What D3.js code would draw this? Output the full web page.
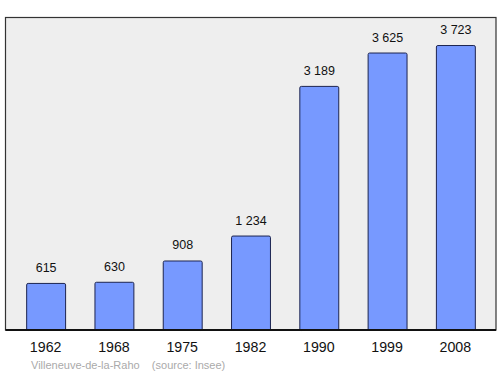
<!DOCTYPE html>
<html><head><meta charset="utf-8">
<script src="https://cdn.jsdelivr.net/npm/d3@7"></script>
<style>body{margin:0;background:#fff}svg{display:block}</style>
</head><body>
<script>
const years = ["1962","1968","1975","1982","1990","1999","2008"];
const population = [615, 630, 908, 1234, 3189, 3625, 3723];
const valueLabels = ["615","630","908","1 234","3 189","3 625","3 723"];
const caption = "Villeneuve-de-la-Raho    (source: Insee)";

(function(){
const W = 500, H = 374;
const svg = d3.select("body").append("svg").attr("width", W).attr("height", H);
const pLeft = 5.5, pRight = 496, pTop = 17.5, pBottom = 330;

svg.append("rect").attr("x", pLeft).attr("y", pTop).attr("width", pRight - pLeft).attr("height", pBottom - pTop)
  .attr("fill", "#eeeeee").attr("stroke", "#333").attr("stroke-width", 1.2);

const x = d3.scaleBand().domain(years).range([5, 496]).paddingInner(0.43).paddingOuter(0.31);
const y = d3.scaleLinear().domain([0, 4076]).range([pBottom, 18]);

svg.selectAll("rect.bar").data(population).enter().append("rect").attr("class","bar")
  .attr("x", (d,i) => x(years[i]) + 0.5)
  .attr("y", d => y(d) + 0.5)
  .attr("width", x.bandwidth())
  .attr("height", d => pBottom - y(d))
  .attr("rx", 1.5)
  .attr("fill", "#7799ff").attr("stroke", "#1c2450").attr("stroke-width", 1);

svg.append("line").attr("x1", pLeft).attr("x2", pRight).attr("y1", pBottom).attr("y2", pBottom)
  .attr("stroke", "#111").attr("stroke-width", 2);

svg.selectAll("text.val").data(population).enter().append("text").attr("class","val")
  .attr("x", (d,i) => x(years[i]) + x.bandwidth()/2 + 0.5)
  .attr("y", d => y(d) - 11)
  .attr("text-anchor", "middle").attr("font-family", "Liberation Sans, Arial, sans-serif")
  .attr("font-size", 12.5).attr("fill", "#111")
  .text((d,i) => valueLabels[i]);

const xAxis = svg.append("g").attr("transform", `translate(0,${pBottom})`)
  .call(d3.axisBottom(x).tickSize(0).tickPadding(0));
xAxis.select(".domain").remove();
xAxis.selectAll("text").attr("y", 22).attr("dy", 0).attr("font-family", "Liberation Sans, Arial, sans-serif")
  .attr("font-size", 14.2).attr("fill", "#111");

svg.append("text").attr("x", 31).attr("y", 368.5).attr("font-family", "Liberation Sans, Arial, sans-serif")
  .attr("font-size", 11).attr("fill", "#aaaaaa").attr("xml:space","preserve").style("white-space","pre")
  .text(caption);
})();
</script>
</body></html>
